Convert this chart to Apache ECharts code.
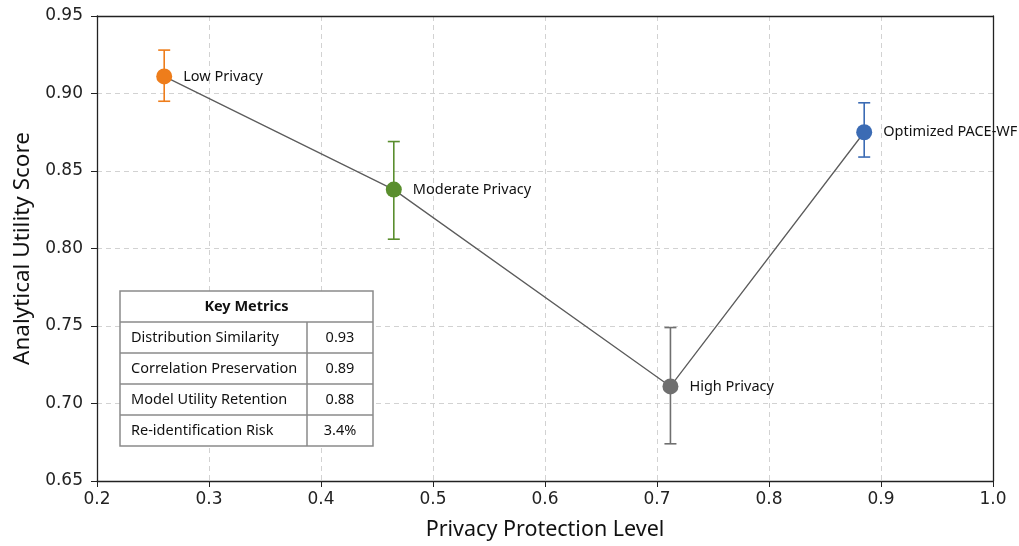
<!DOCTYPE html>
<html>
<head>
<meta charset="utf-8">
<script src="https://cdn.jsdelivr.net/npm/echarts@6/dist/echarts.min.js"></script>
<style>
  html, body { margin: 0; padding: 0; background: #fff; }
  #chart { width: 1019px; height: 546px; }
</style>
</head>
<body>
<div id="chart"></div>
<script>
// Privacy configurations and their measured utility
const names = ['Low Privacy', 'Moderate Privacy', 'High Privacy', 'Optimized PACE-WF'];
const privacyLevel = [0.26, 0.465, 0.712, 0.885];
const utility = [0.911, 0.838, 0.711, 0.875];
const utilityLow = [0.895, 0.806, 0.674, 0.859];
const utilityHigh = [0.928, 0.869, 0.749, 0.894];
const pointColors = ['#ee7d1b', '#5a8e2e', '#6f6f6f', '#3b6bb4'];

// Summary table
const metricNames = ['Distribution Similarity', 'Correlation Preservation', 'Model Utility Retention', 'Re-identification Risk'];
const metricValues = ['0.93', '0.89', '0.88', '3.4%'];

const xTicks = { min: 0.2, max: 1.0, step: 0.1 };
const yTicks = { min: 0.65, max: 0.95, step: 0.05 };

const FONT = 'Noto Sans';
const AXIS_FONT = 'DejaVu Sans';

const chart = echarts.init(document.getElementById('chart'), null, { renderer: 'canvas' });

const linePoints = privacyLevel.map((x, i) => [x, utility[i]]);
const scatterPoints = privacyLevel.map((x, i) => ({
  value: [x, utility[i]],
  name: names[i],
  itemStyle: { color: pointColors[i], opacity: 1 }
}));
const errPoints = privacyLevel.map((x, i) => [x, utilityLow[i], utilityHigh[i], i]);

// Table layout
const tbl = { x: 120, y: 291, w: 253, rowH: 31, split: 187 };
const tableEls = [];
const nRows = metricNames.length + 1;
const border = { stroke: '#8a8a8a', lineWidth: 1.5 };
const cellFont = '14.5px "' + FONT + '"';
tableEls.push({
  type: 'rect', shape: { x: tbl.x, y: tbl.y, width: tbl.w, height: tbl.rowH * nRows },
  style: Object.assign({ fill: '#fff' }, border), z: 100
});
for (let r = 1; r < nRows; r++) {
  tableEls.push({
    type: 'line', shape: { x1: tbl.x, y1: tbl.y + r * tbl.rowH, x2: tbl.x + tbl.w, y2: tbl.y + r * tbl.rowH },
    style: border, z: 101
  });
}
tableEls.push({
  type: 'line', shape: { x1: tbl.x + tbl.split, y1: tbl.y + tbl.rowH, x2: tbl.x + tbl.split, y2: tbl.y + tbl.rowH * nRows },
  style: border, z: 101
});
tableEls.push({
  type: 'text', x: tbl.x + tbl.w / 2, y: tbl.y + tbl.rowH / 2, z: 102,
  style: { text: 'Key Metrics', font: 'bold 14.5px "' + FONT + '"', fill: '#111', align: 'center', verticalAlign: 'middle' }
});
metricNames.forEach((m, i) => {
  const cy = tbl.y + tbl.rowH * (i + 1.5);
  tableEls.push({
    type: 'text', x: tbl.x + 11, y: cy, z: 102,
    style: { text: m, font: cellFont, fill: '#111', align: 'left', verticalAlign: 'middle' }
  });
  tableEls.push({
    type: 'text', x: tbl.x + tbl.split + (tbl.w - tbl.split) / 2, y: cy, z: 102,
    style: { text: metricValues[i], font: cellFont, fill: '#111', align: 'center', verticalAlign: 'middle' }
  });
});

const gridLine = { show: true, lineStyle: { color: '#d2d2d2', type: [5, 4], width: 1 } };
const frameAxis = { show: true, lineStyle: { color: '#222', width: 1.3 } };

const option = {
  backgroundColor: '#fff',
  animation: false,
  grid: { left: 97, right: 26, top: 16, bottom: 64 },
  xAxis: [
    {
      type: 'value', min: xTicks.min, max: xTicks.max, interval: xTicks.step,
      name: 'Privacy Protection Level', nameLocation: 'middle', nameGap: 38,
      nameTextStyle: { fontFamily: FONT, fontSize: 21.5, color: '#111' },
      axisLine: frameAxis,
      axisTick: { show: true, length: 6, lineStyle: { color: '#222' } },
      axisLabel: { fontFamily: AXIS_FONT, fontSize: 17, color: '#222', margin: 10,
        formatter: v => v.toFixed(1) },
      splitLine: gridLine
    },
    {
      type: 'value', position: 'top', min: xTicks.min, max: xTicks.max, interval: xTicks.step,
      axisLine: frameAxis, axisTick: { show: false }, axisLabel: { show: false }, splitLine: { show: false }
    }
  ],
  yAxis: [
    {
      type: 'value', min: yTicks.min, max: yTicks.max, interval: yTicks.step,
      name: 'Analytical Utility Score', nameLocation: 'middle', nameGap: 62,
      nameTextStyle: { fontFamily: FONT, fontSize: 22.5, color: '#111' },
      axisLine: frameAxis,
      axisTick: { show: true, length: 6, lineStyle: { color: '#222' } },
      axisLabel: { fontFamily: AXIS_FONT, fontSize: 17, color: '#222', margin: 14,
        formatter: v => v.toFixed(2) },
      splitLine: gridLine
    },
    {
      type: 'value', position: 'right', min: yTicks.min, max: yTicks.max, interval: yTicks.step,
      axisLine: frameAxis, axisTick: { show: false }, axisLabel: { show: false }, splitLine: { show: false }
    }
  ],
  series: [
    {
      type: 'line', data: linePoints, showSymbol: false, symbol: 'none',
      lineStyle: { color: '#5c5c5c', width: 1.3 }, z: 2, silent: true
    },
    {
      type: 'custom', data: errPoints, z: 3, silent: true,
      renderItem: (params, api) => {
        const x = api.value(0);
        const lo = api.coord([x, api.value(1)]);
        const hi = api.coord([x, api.value(2)]);
        const c = pointColors[api.value(3)];
        const cap = 6;
        const st = { stroke: c, lineWidth: 1.6 };
        return {
          type: 'group',
          children: [
            { type: 'line', shape: { x1: lo[0], y1: lo[1], x2: hi[0], y2: hi[1] }, style: st },
            { type: 'line', shape: { x1: lo[0] - cap, y1: lo[1], x2: lo[0] + cap, y2: lo[1] }, style: st },
            { type: 'line', shape: { x1: hi[0] - cap, y1: hi[1], x2: hi[0] + cap, y2: hi[1] }, style: st }
          ]
        };
      }
    },
    {
      type: 'scatter', data: scatterPoints, symbol: 'circle', symbolSize: 16, z: 4,
      itemStyle: { opacity: 1 },
      label: {
        show: true, position: 'right', distance: 11,
        formatter: p => p.name,
        fontFamily: FONT, fontSize: 14.5, color: '#111'
      }
    }
  ],
  graphic: tableEls
};

chart.setOption(option);
</script>
</body>
</html>
